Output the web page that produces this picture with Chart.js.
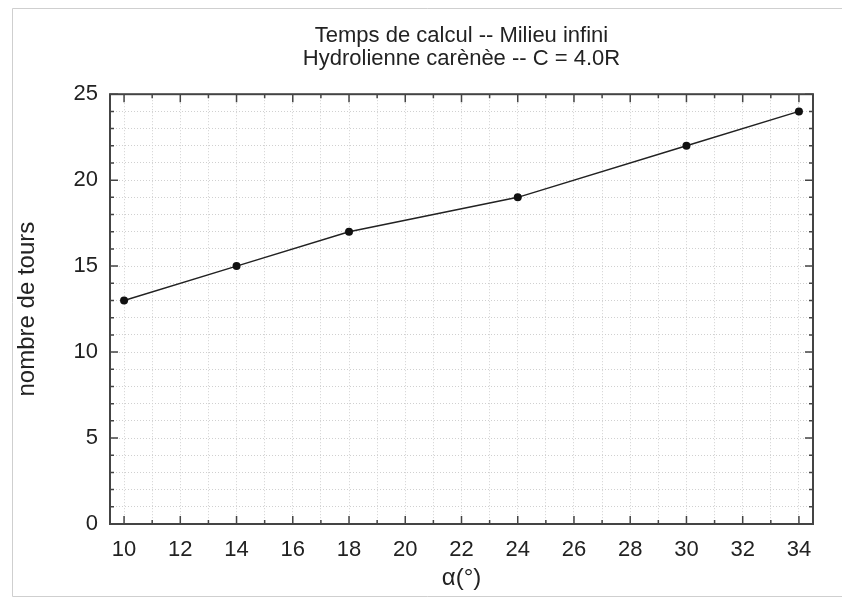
<!DOCTYPE html>
<html>
<head>
<meta charset="utf-8">
<script src="https://cdn.jsdelivr.net/npm/chart.js@4"></script>
<style>
  html, body { margin: 0; padding: 0; background: #fff; }
  #wrap { width: 842px; height: 599px; }
</style>
</head>
<body>
<div id="wrap"><canvas id="chart_temps"></canvas></div>
<script>
// valeurs
const alphaDeg = [10, 14, 18, 24, 30, 34];
const nbTours = [13, 15, 17, 19, 22, 24];

const xGrid = [10,11,12,13,14,15,16,17,18,19,20,21,22,23,24,25,26,27,28,29,30,31,32,33,34];
const yGrid = [0,1,2,3,4,5,6,7,8,9,10,11,12,13,14,15,16,17,18,19,20,21,22,23,24,25];
const xLabelStep = 2;
const yLabelStep = 5;

const titleLines = ['Temps de calcul -- Milieu infini', 'Hydrolienne carènèe -- C = 4.0R'];
const xTitle = 'α(°)';
const yTitle = 'nombre de tours';

const FONT = '"Liberation Sans", Arial, Helvetica, sans-serif';

// cadre gris autour de la figure + cadre du graphe avec tics vers l'intérieur
const framePlugin = {
    id: 'framePlugin',
    beforeDraw(chart) {
        const c = chart.ctx;
        c.save();
        c.fillStyle = '#fff';
        c.fillRect(0, 0, chart.width, chart.height);
        c.strokeStyle = '#cfcfcf';
        c.lineWidth = 1;
        c.beginPath();
        c.moveTo(chart.width + 5, 8.5);
        c.lineTo(12.5, 8.5);
        c.lineTo(12.5, 596.5);
        c.lineTo(chart.width + 5, 596.5);
        c.stroke();
        c.restore();
    },
    afterDraw(chart) {
        const {ctx, chartArea: a, scales: {x, y}} = chart;
        ctx.save();
        ctx.strokeStyle = '#444';
        ctx.lineWidth = 1.5;
        ctx.beginPath();
        xGrid.forEach(v => {
            const px = x.getPixelForValue(v);
            const len = (v % xLabelStep === 0) ? 8 : 4;
            ctx.moveTo(px, a.bottom); ctx.lineTo(px, a.bottom - len);
            ctx.moveTo(px, a.top); ctx.lineTo(px, a.top + len);
        });
        yGrid.forEach(v => {
            const py = y.getPixelForValue(v);
            const len = (v % yLabelStep === 0) ? 8 : 4;
            ctx.moveTo(a.left, py); ctx.lineTo(a.left + len, py);
            ctx.moveTo(a.right, py); ctx.lineTo(a.right - len, py);
        });
        ctx.stroke();
        ctx.lineWidth = 2;
        ctx.strokeRect(a.left, a.top, a.right - a.left, a.bottom - a.top);
        ctx.restore();
    }
};

function makeLineChart(ctx) {
    return new Chart(ctx, {
        type: 'line',
        data: {
            labels: alphaDeg,
            datasets: [{
                data: alphaDeg.map((a, i) => ({x: a, y: nbTours[i]})),
                borderColor: '#222',
                borderWidth: 1.5,
                pointRadius: 4,
                pointBackgroundColor: '#111',
                pointBorderColor: '#111',
                pointBorderWidth: 0,
                tension: 0
            }]
        },
        options: {
            responsive: true,
            maintainAspectRatio: false,
            animation: false,
            layout: { padding: { left: 0, right: 29, top: 0, bottom: 0 } },
            plugins: {
                legend: { display: false },
                tooltip: { enabled: false },
                title: {
                    display: true,
                    fullSize: false,
                    text: titleLines,
                    color: '#222',
                    font: { family: FONT, size: 22, weight: 'normal', lineHeight: 1.05 },
                    padding: { top: 24, bottom: 24 }
                }
            },
            scales: {
                x: {
                    type: 'linear',
                    min: 9.5,
                    max: 34.5,
                    afterBuildTicks: s => { s.ticks = xGrid.map(v => ({value: v})); },
                    afterFit: s => { s.height = 75; },
                    grid: { color: '#d0d0d0', lineWidth: 1, drawTicks: false },
                    border: { display: false, dash: [1, 2] },
                    ticks: {
                        autoSkip: false,
                        maxRotation: 0,
                        padding: 13,
                        color: '#222',
                        font: { family: FONT, size: 22 },
                        callback: v => (v % xLabelStep === 0 ? v : '')
                    },
                    title: {
                        display: true,
                        text: xTitle,
                        color: '#222',
                        font: { family: FONT, size: 24 },
                        padding: { top: 0, bottom: 6 }
                    }
                },
                y: {
                    type: 'linear',
                    min: 0,
                    max: 25,
                    afterBuildTicks: s => { s.ticks = yGrid.map(v => ({value: v})); },
                    afterFit: s => { s.width = 110; },
                    grid: { color: '#d0d0d0', lineWidth: 1, drawTicks: false },
                    border: { display: false, dash: [1, 2] },
                    ticks: {
                        autoSkip: false,
                        padding: 12,
                        color: '#222',
                        font: { family: FONT, size: 22 },
                        callback: v => (v % yLabelStep === 0 ? v : '')
                    },
                    title: {
                        display: true,
                        text: yTitle,
                        color: '#222',
                        font: { family: FONT, size: 24 },
                        padding: { top: 13, bottom: 0 }
                    }
                }
            }
        },
        plugins: [framePlugin]
    });
}

document.addEventListener('DOMContentLoaded', () => {
    makeLineChart(document.getElementById('chart_temps'));
});
</script>
</body>
</html>
